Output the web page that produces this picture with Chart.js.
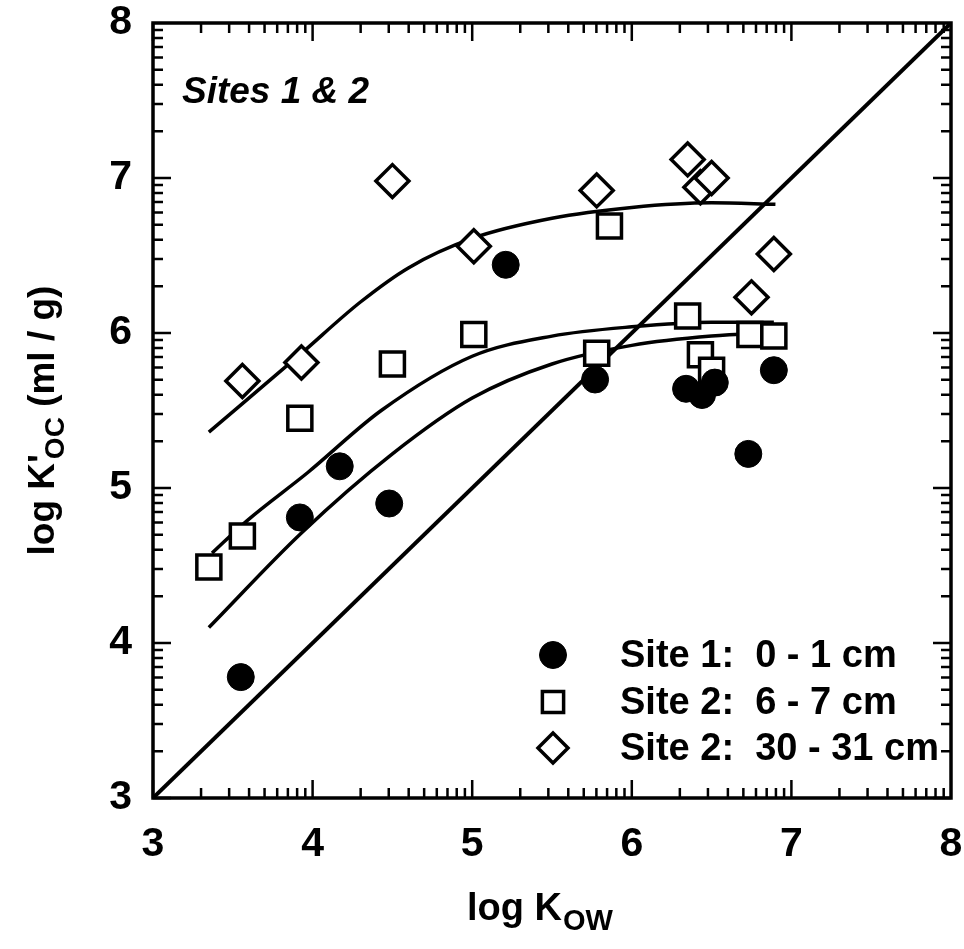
<!DOCTYPE html>
<html>
<head>
<meta charset="utf-8">
<script src="https://cdn.jsdelivr.net/npm/chart.js@4.4.0/dist/chart.umd.min.js"></script>
<style>
  html, body { margin: 0; background: #fff; }
  #wrap { width: 964px; height: 949px; }
</style>
</head>
<body>
<div id="wrap"><canvas id="chart"></canvas></div>
<script>
// measured points
const site1X = [3.55, 3.92, 4.17, 4.48, 5.21, 5.77, 6.34, 6.44, 6.52, 6.73, 6.89];
const site1Y = [3.78, 4.81, 5.14, 4.90, 6.44, 5.70, 5.64, 5.60, 5.68, 5.22, 5.76];

const site2aX = [3.35, 3.56, 3.92, 4.50, 5.01, 5.86, 5.78, 6.35, 6.43, 6.50, 6.74, 6.89];
const site2aY = [4.49, 4.69, 5.45, 5.80, 5.99, 6.69, 5.87, 6.11, 5.86, 5.76, 5.99, 5.98];

const site2bX = [3.56, 3.93, 4.50, 5.01, 5.78, 6.35, 6.43, 6.50, 6.75, 6.89];
const site2bY = [5.69, 5.81, 6.98, 6.56, 6.92, 7.12, 6.94, 7.00, 6.23, 6.51];

// fitted curves
const fit30X = [3.35, 3.92, 4.30, 4.60, 5.00, 5.50, 6.00, 6.50, 6.90];
const fit30Y = [5.36, 5.86, 6.20, 6.42, 6.61, 6.74, 6.81, 6.84, 6.83];

const fit6X = [3.37, 3.59, 3.97, 4.43, 5.00, 5.50, 6.00, 6.50, 6.89];
const fit6Y = [4.58, 4.79, 5.10, 5.50, 5.85, 5.98, 6.04, 6.07, 6.07];

const fit0X = [3.35, 3.93, 4.50, 5.00, 5.50, 6.00, 6.50, 6.90];
const fit0Y = [4.10, 4.71, 5.22, 5.58, 5.80, 5.92, 5.98, 6.00];

// 1:1 line
const unityX = [3, 8];
const unityY = [3, 8];

const legendLabels = ['Site 1:  0 - 1 cm', 'Site 2:  6 - 7 cm', 'Site 2:  30 - 31 cm'];

function pts(xs, ys) {
  return xs.map((x, i) => ({ x: x, y: ys[i] }));
}

const FONT = '"Liberation Sans", Arial, sans-serif';

const markerStyles = [
  { pointStyle: 'circle', radius: 13.5, fill: '#000', width: 1 },
  { pointStyle: 'rect', radius: 15, fill: '#fff', width: 3.5 },
  { pointStyle: 'rectRot', radius: 15, fill: '#fff', width: 3.5 }
];

function curve(data) {
  return {
    type: 'line',
    data: data,
    showLine: true,
    borderColor: '#000',
    borderWidth: 3.5,
    pointRadius: 0,
    fill: false,
    cubicInterpolationMode: 'monotone',
    order: 5
  };
}

function mixedText(ctx, parts, x, y) {
  // parts: [text, size, dy, kern]
  let cx = x;
  parts.forEach(p => {
    ctx.font = 'bold ' + p[1] + 'px ' + FONT;
    cx += p[3] || 0;
    ctx.fillText(p[0], cx, y + p[2]);
    cx += ctx.measureText(p[0]).width;
  });
}

function mixedWidth(ctx, parts) {
  let w = 0;
  parts.forEach(p => {
    ctx.font = 'bold ' + p[1] + 'px ' + FONT;
    w += ctx.measureText(p[0]).width + (p[3] || 0);
  });
  return w;
}

const decorPlugin = {
  id: 'decor',
  afterDraw(chart) {
    const ctx = chart.ctx;
    const a = chart.chartArea;
    const xs = chart.scales.x;
    const ys = chart.scales.y;
    ctx.save();
    ctx.strokeStyle = '#000';
    ctx.fillStyle = '#000';

    // log-style ticks on all four sides
    ctx.lineWidth = 2.5;
    for (let i = 3; i < 8; i++) {
      for (let k = 1; k <= 9; k++) {
        const v = i + Math.log10(k);
        const len = k === 1 ? 18 : 10;
        const px = xs.getPixelForValue(v);
        const py = ys.getPixelForValue(v);
        ctx.beginPath();
        ctx.moveTo(px, a.bottom); ctx.lineTo(px, a.bottom - len);
        ctx.moveTo(px, a.top); ctx.lineTo(px, a.top + len);
        ctx.moveTo(a.left, py); ctx.lineTo(a.left + len, py);
        ctx.moveTo(a.right, py); ctx.lineTo(a.right - len, py);
        ctx.stroke();
      }
    }

    // frame
    ctx.lineWidth = 3.5;
    ctx.strokeRect(a.left, a.top, a.right - a.left, a.bottom - a.top);

    // panel label
    ctx.font = 'italic bold 37px ' + FONT;
    ctx.textAlign = 'left';
    ctx.textBaseline = 'alphabetic';
    ctx.fillText('Sites 1 & 2', 182, 103);

    // legend
    ctx.textBaseline = 'middle';
    const rowsY = [655, 702, 748];
    legendLabels.forEach((t, i) => {
      const m = markerStyles[i];
      ctx.save();
      ctx.fillStyle = m.fill;
      ctx.strokeStyle = '#000';
      ctx.lineWidth = m.width;
      Chart.helpers.drawPoint(ctx, { pointStyle: m.pointStyle, radius: m.radius, rotation: 0, borderWidth: m.width }, 553, rowsY[i]);
      ctx.restore();
      ctx.font = 'bold 38px ' + FONT;
      ctx.fillText(t, 620, rowsY[i] + 2);
    });

    // x title with subscript
    ctx.textBaseline = 'alphabetic';
    const xt = [['log K', 38, 0, 0], ['OW', 29, 10, 1]];
    const xw = mixedWidth(ctx, xt);
    mixedText(ctx, xt, (a.left + a.right) / 2 - 12 - xw / 2, 920);

    // y title, rotated
    ctx.save();
    ctx.translate(54, (a.top + a.bottom) / 2 + 10);
    ctx.rotate(-Math.PI / 2);
    const yt = [["log K'", 37, 0, 0], ['OC', 28, 10, -5], [' (ml / g)', 37, 0, 0]];
    const yw = mixedWidth(ctx, yt);
    mixedText(ctx, yt, -yw / 2, 0);
    ctx.restore();

    ctx.restore();
  }
};

new Chart(document.getElementById('chart'), {
  type: 'scatter',
  data: {
    datasets: [
      { label: legendLabels[0], data: pts(site1X, site1Y), order: 1,
        pointStyle: 'circle', pointRadius: 13.5, pointBackgroundColor: '#000', pointBorderColor: '#000', pointBorderWidth: 1 },
      { label: legendLabels[1], data: pts(site2aX, site2aY), order: 2,
        pointStyle: 'rect', pointRadius: 17, pointBackgroundColor: '#fff', pointBorderColor: '#000', pointBorderWidth: 3.5 },
      { label: legendLabels[2], data: pts(site2bX, site2bY), order: 3,
        pointStyle: 'rectRot', pointRadius: 16.5, pointBackgroundColor: '#fff', pointBorderColor: '#000', pointBorderWidth: 3.5 },
      curve(pts(fit30X, fit30Y)),
      curve(pts(fit6X, fit6Y)),
      curve(pts(fit0X, fit0Y)),
      Object.assign(curve(pts(unityX, unityY)), { borderWidth: 4, cubicInterpolationMode: 'default', tension: 0 })
    ]
  },
  options: {
    responsive: true,
    maintainAspectRatio: false,
    animation: false,
    layout: { autoPadding: false, padding: { left: 0, right: 13, top: 23, bottom: 0 } },
    scales: {
      x: {
        type: 'linear',
        min: 3, max: 8,
        afterFit: (s) => { s.height = 151; s.paddingLeft = 0; s.paddingRight = 0; },
        grid: { display: false },
        border: { display: false },
        ticks: { stepSize: 1, padding: 14, color: '#000', font: { family: FONT, size: 41, weight: 'bold' } }
      },
      y: {
        type: 'linear',
        min: 3, max: 8,
        afterFit: (s) => { s.width = 153; s.paddingTop = 0; s.paddingBottom = 0; },
        grid: { display: false },
        border: { display: false },
        ticks: { stepSize: 1, padding: 13, color: '#000', font: { family: FONT, size: 41, weight: 'bold' } }
      }
    },
    plugins: {
      legend: { display: false },
      tooltip: { enabled: false }
    }
  },
  plugins: [decorPlugin]
});
</script>
</body>
</html>
